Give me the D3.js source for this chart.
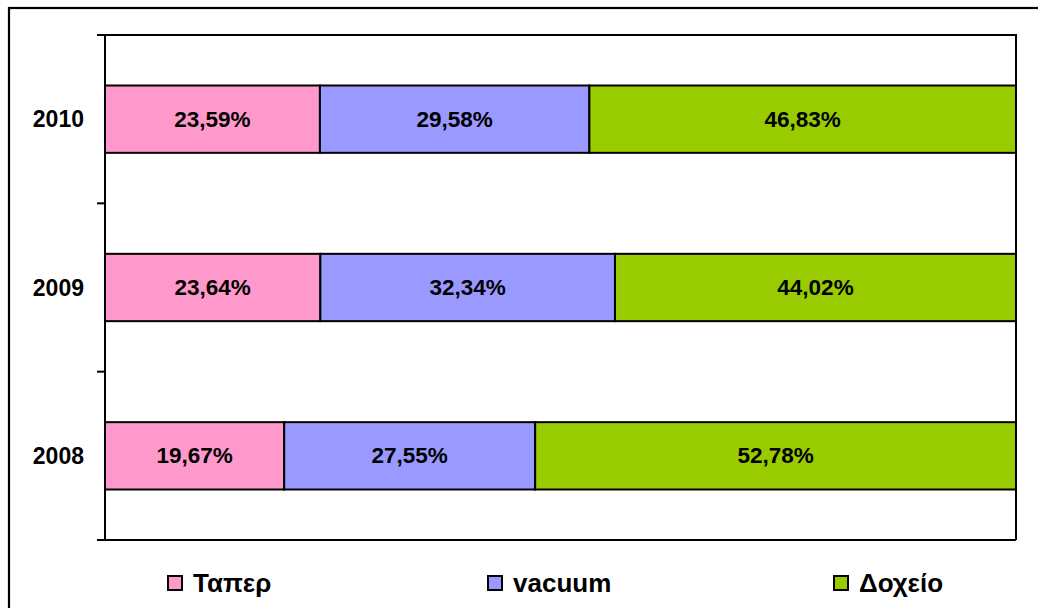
<!DOCTYPE html>
<html>
<head>
<meta charset="utf-8">
<script src="https://cdn.jsdelivr.net/npm/d3@7"></script>
<style>
  html, body { margin: 0; padding: 0; background: #fff; }
  svg { display: block; }
  text { font-family: "Liberation Sans", Arial, sans-serif; font-weight: bold; fill: #000; }
</style>
</head>
<body>
<svg id="chart" width="1038" height="608"></svg>
<script>
// Yearly share of each storage method (%), stacked to 100%
const years = ["2010", "2009", "2008"];
const seriesNames = ["Ταπερ", "vacuum", "Δοχείο"];
const taper  = [23.59, 23.64, 19.67];
const vacuum = [29.58, 32.34, 27.55];
const doxeio = [46.83, 44.02, 52.78];
const colors = ["#ff99cc", "#9999ff", "#99cc00"];

const rows = years.map((y, i) => ({ year: y, "Ταπερ": taper[i], "vacuum": vacuum[i], "Δοχείο": doxeio[i] }));

const svg = d3.select("#chart");
const W = 1038, H = 608;

// outer chart frame
svg.append("rect")
  .attr("x", 9).attr("y", 8)
  .attr("width", W + 10).attr("height", H + 10)
  .attr("fill", "none").attr("stroke", "#000").attr("stroke-width", 2.2);

const plot = { left: 105, right: 1016, top: 35, bottom: 540 };

const x = d3.scaleLinear().domain([0, 100]).range([plot.left, plot.right]);
const y = d3.scaleBand().domain(years).range([plot.top, plot.bottom]).paddingInner(0.6).paddingOuter(0.3);

// plot area border (top and right)
svg.append("path")
  .attr("d", `M${plot.left},${plot.top}H${plot.right}V${plot.bottom}`)
  .attr("fill", "none").attr("stroke", "#000").attr("stroke-width", 2);

const stack = d3.stack().keys(seriesNames);
const layers = stack(rows);

const g = svg.append("g");
layers.forEach((layer, li) => {
  const lg = g.append("g");
  lg.selectAll("rect").data(layer).join("rect")
    .attr("x", d => x(d[0]))
    .attr("y", d => y(d.data.year))
    .attr("width", d => x(d[1]) - x(d[0]))
    .attr("height", y.bandwidth())
    .attr("fill", colors[li])
    .attr("stroke", "#000").attr("stroke-width", 2);
  lg.selectAll("text").data(layer).join("text")
    .attr("x", d => (x(d[0]) + x(d[1])) / 2)
    .attr("y", d => y(d.data.year) + y.bandwidth() / 2)
    .attr("text-anchor", "middle")
    .attr("dominant-baseline", "central")
    .attr("font-size", 22.5)
    .text(d => (d[1] - d[0]).toFixed(2).replace(".", ",") + "%");
});

// category axis on the left, ticks between categories
const yBoundary = d3.scaleLinear().domain([0, 3]).range([plot.top, plot.bottom]);
const axisG = svg.append("g");
axisG.append("line")
  .attr("x1", plot.left).attr("x2", plot.left)
  .attr("y1", plot.top).attr("y2", plot.bottom)
  .attr("stroke", "#000").attr("stroke-width", 2);
axisG.selectAll("line.tick").data(d3.range(4)).join("line")
  .attr("class", "tick")
  .attr("x1", plot.left - 8).attr("x2", plot.left)
  .attr("y1", d => yBoundary(d)).attr("y2", d => yBoundary(d))
  .attr("stroke", "#000").attr("stroke-width", 2);
// bottom axis line
axisG.append("line")
  .attr("x1", plot.left - 8).attr("x2", plot.right)
  .attr("y1", plot.bottom).attr("y2", plot.bottom)
  .attr("stroke", "#000").attr("stroke-width", 2);
axisG.selectAll("text").data(years).join("text")
  .attr("x", 84)
  .attr("y", d => y(d) + y.bandwidth() / 2)
  .attr("text-anchor", "end")
  .attr("dominant-baseline", "central")
  .attr("font-size", 23)
  .text(d => d);

// legend
const legendX = [167, 487, 833];
const legend = svg.append("g");
seriesNames.forEach((name, i) => {
  legend.append("rect")
    .attr("x", legendX[i] + 1).attr("y", 576)
    .attr("width", 14).attr("height", 14)
    .attr("fill", colors[i]).attr("stroke", "#000").attr("stroke-width", 2);
  legend.append("text")
    .attr("x", legendX[i] + 26).attr("y", 592)
    .attr("font-size", 26)
    .text(name);
});
</script>
</body>
</html>
